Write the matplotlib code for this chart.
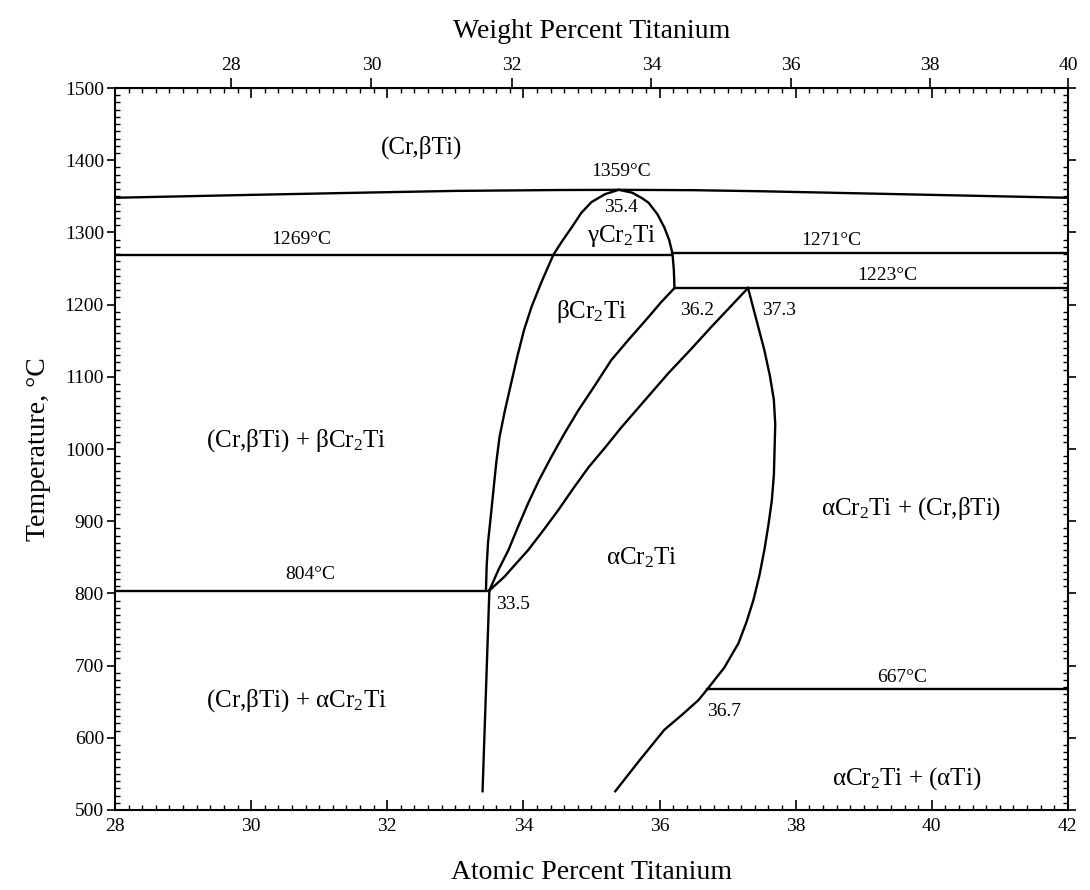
import numpy as np
import matplotlib
matplotlib.use('Agg')
from matplotlib import pyplot as plt
from matplotlib.ticker import MultipleLocator

plt.rcParams['font.family'] = ['Liberation Serif', 'DejaVu Serif']
plt.rcParams['mathtext.fontset'] = 'custom'
plt.rcParams['mathtext.rm'] = 'Liberation Serif'
plt.rcParams['mathtext.it'] = 'Liberation Serif:italic'

# atomic masses (g/mol)
M_TI = 47.867
M_CR = 51.996

# (Cr,bTi) / gamma-Cr2Ti boundary with congruent maximum at 1359 C
top_x = [28.0, 30.0, 31.6, 33.0, 34.5, 35.4, 36.5, 37.5, 39.0, 40.5, 42.0]
top_T = [1348, 1352, 1355, 1357.5, 1358.7, 1359, 1358.5, 1357, 1354, 1351, 1348]

# left side of the Cr2Ti field, from 35.4 at. % down to the eutectoid
left_x = [35.4, 35.2, 35.0, 34.85, 34.71, 34.57, 34.44, 34.26, 34.12, 34.01, 33.91,
          33.82, 33.73, 33.65, 33.6, 33.56, 33.52, 33.48, 33.46, 33.45]
left_T = [1359, 1353, 1342, 1327, 1307, 1288, 1269, 1230, 1197, 1165, 1128,
          1091, 1054, 1017, 980, 943, 906, 870, 837, 804]

# right side of the gamma dome down to 36.2 at. %
dome_x = [35.4, 35.6, 35.75, 35.84, 35.97, 36.07, 36.14, 36.19, 36.21, 36.22]
dome_T = [1359, 1355, 1347, 1341, 1325, 1307, 1290, 1271, 1248, 1223]

# beta / alpha Cr2Ti boundary
ba_x = [36.22, 36.02, 35.84, 35.56, 35.29, 35.05, 34.81, 34.6, 34.41, 34.23, 34.07,
        33.92, 33.78, 33.63, 33.5]
ba_T = [1223, 1203, 1183, 1153, 1123, 1088, 1054, 1021, 989, 957, 925,
        892, 860, 832, 804]

# upper alpha Cr2Ti boundary from 37.3 at. %
au_x = [37.3, 37.03, 36.76, 36.45, 36.13, 35.78, 35.44, 35.2, 34.96, 34.73, 34.51,
        34.29, 34.07, 33.88, 33.72, 33.5]
au_T = [1223, 1196, 1169, 1137, 1105, 1067, 1030, 1002, 975, 945, 915,
        887, 860, 840, 823, 804]

# Ti-rich alpha Cr2Ti boundary
ar_x = [37.3, 37.42, 37.54, 37.62, 37.68, 37.7, 37.69, 37.68, 37.65, 37.6, 37.54,
        37.47, 37.38, 37.28, 37.16, 36.95, 36.7]
ar_T = [1223, 1180, 1137, 1102, 1068, 1034, 999, 964, 929, 895, 860,
        826, 791, 761, 731, 697, 667]

# below the 667 C invariant
low_x = [36.7, 36.57, 36.32, 36.07, 35.7, 35.35]
low_T = [667, 652, 631, 611, 568, 526]

# Cr-rich alpha Cr2Ti boundary
al_x = [33.5, 33.45, 33.4]
al_T = [804, 665, 526]

# invariant lines: (x start, x end, temperature)
iso_x0 = [28.0, 36.19, 36.22, 28.0, 36.7]
iso_x1 = [36.19, 42.0, 42.0, 33.5, 42.0]
iso_T = [1269, 1271, 1223, 804, 667]


def at2wt(a):
    a = np.asarray(a, dtype=float)
    return 100.0*a*M_TI/(a*M_TI + (100.0 - a)*M_CR)


def wt2at(w):
    w = np.asarray(w, dtype=float)
    n_ti = w/M_TI
    n_cr = (100.0 - w)/M_CR
    return 100.0*n_ti/(n_ti + n_cr)


fig = plt.figure(figsize=(10.9, 8.9), dpi=100)
ax = fig.add_axes([0.1055, 0.0899, 0.8745, 0.8112])

lw = 1.7
for xs, ts in [(top_x, top_T), (left_x, left_T), (dome_x, dome_T), (ba_x, ba_T),
               (au_x, au_T), (ar_x, ar_T), (low_x, low_T), (al_x, al_T)]:
    ax.plot(xs, ts, '-k', linewidth=lw, solid_joinstyle='round')
for x0, x1, t in zip(iso_x0, iso_x1, iso_T):
    ax.plot([x0, x1], [t, t], '-k', linewidth=lw)

# a hair past 42 so the 40 wt. % tick stays inside the axis
ax.set_xlim(28, 42.004)
ax.set_ylim(500, 1500)

# ticks
ax.xaxis.set_major_locator(MultipleLocator(2))
ax.xaxis.set_minor_locator(MultipleLocator(0.2))
ax.yaxis.set_major_locator(MultipleLocator(100))
ax.yaxis.set_minor_locator(MultipleLocator(10))
ax.tick_params(axis='x', which='major', direction='in', top=True, length=7, width=1.2,
               labelsize=14, pad=6)
ax.tick_params(axis='x', which='minor', direction='in', top=True, length=3.5, width=1)
ax.tick_params(axis='y', which='major', direction='out', right=True, length=6, width=1.2,
               labelsize=14, pad=2)
ax.tick_params(axis='y', which='minor', direction='in', right=True, length=3.5, width=1)
for s in ax.spines.values():
    s.set_linewidth(1.5)

sec = ax.secondary_xaxis('top', functions=(at2wt, wt2at))
sec.set_xticks([28, 30, 32, 34, 36, 38, 40])
sec.tick_params(axis='x', which='major', direction='out', length=7, width=1.2,
                labelsize=14, pad=3)
sec.tick_params(axis='x', which='minor', bottom=False, top=False)
sec.set_xlabel('Weight Percent Titanium', fontsize=20, labelpad=14)

ax.set_xlabel('Atomic Percent Titanium', fontsize=20, labelpad=18)
ax.set_ylabel('Temperature, °C', fontsize=20, labelpad=10)

# temperature and composition annotations
fs_t = 14
ax.text(35.44, 1384, '1359°C', fontsize=fs_t, ha='center', va='center')
ax.text(35.44, 1335, '35.4', fontsize=fs_t, ha='center', va='center')
ax.text(30.74, 1290, '1269°C', fontsize=fs_t, ha='center', va='center')
ax.text(38.53, 1289, '1271°C', fontsize=fs_t, ha='center', va='center')
ax.text(39.34, 1240, '1223°C', fontsize=fs_t, ha='center', va='center')
ax.text(36.3, 1192, '36.2', fontsize=fs_t, ha='left', va='center')
ax.text(37.5, 1192, '37.3', fontsize=fs_t, ha='left', va='center')
ax.text(30.87, 826, '804°C', fontsize=fs_t, ha='center', va='center')
ax.text(33.6, 785, '33.5', fontsize=fs_t, ha='left', va='center')
ax.text(39.56, 683, '667°C', fontsize=fs_t, ha='center', va='center')
ax.text(36.7, 636, '36.7', fontsize=fs_t, ha='left', va='center')

# phase field labels
fs_p = 18
ax.text(32.5, 1418, '(Cr,βTi)', fontsize=fs_p, ha='center', va='center')
ax.text(35.44, 1295, 'γCr$_2$Ti', fontsize=fs_p, ha='center', va='center')
ax.text(35.0, 1190, 'βCr$_2$Ti', fontsize=fs_p, ha='center', va='center')
ax.text(30.66, 1012, '(Cr,βTi) + βCr$_2$Ti', fontsize=fs_p, ha='center', va='center')
ax.text(39.7, 918, 'αCr$_2$Ti + (Cr,βTi)', fontsize=fs_p, ha='center', va='center')
ax.text(35.74, 849, 'αCr$_2$Ti', fontsize=fs_p, ha='center', va='center')
ax.text(30.66, 652, '(Cr,βTi) + αCr$_2$Ti', fontsize=fs_p, ha='center', va='center')
ax.text(39.63, 544, 'αCr$_2$Ti + (αTi)', fontsize=fs_p, ha='center', va='center')

fig.savefig('out.png', dpi=100)
